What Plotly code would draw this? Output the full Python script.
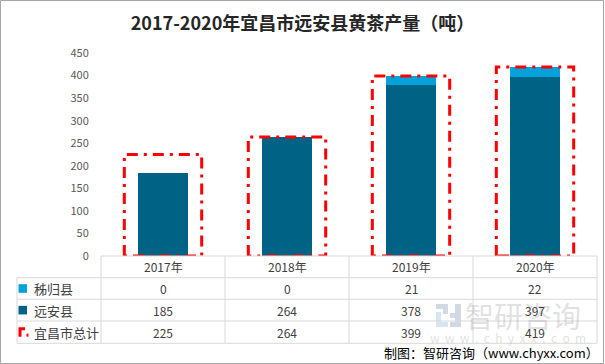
import plotly.graph_objects as go

years = ["2017年", "2018年", "2019年", "2020年"]
zigui = [0, 0, 21, 22]
yuanan = [185, 264, 378, 397]
total = [225, 264, 399, 419]
series_names = ["秭归县", "远安县", "宜昌市总计"]
y_ticks = [0, 50, 100, 150, 200, 250, 300, 350, 400, 450]

C_LIGHT = "#00A2DA"
C_DARK = "#006386"
C_RED = "#FF0000"
C_GRID = "#D9D9D9"
FONT = "Noto Sans CJK SC"

W, H = 605, 364
L, R, T, B = 101, 597, 53, 256

def px(x):
    return (x - L) / (R - L)

def py(y):
    return (B - y) / (B - T)

xs = list(range(len(years)))
fig = go.Figure()
fig.add_trace(go.Bar(x=xs, y=yuanan, width=0.403, marker=dict(color=C_DARK, line=dict(width=0)),
                     name=series_names[1], hoverinfo="skip"))
fig.add_trace(go.Bar(x=xs, y=zigui, width=0.403, marker=dict(color=C_LIGHT, line=dict(width=0)),
                     name=series_names[0], hoverinfo="skip"))

hw = 0.312
bx, by = [], []
for i, t in enumerate(total):
    bx += [i - hw, i - hw, i + hw, i + hw, i - hw, None]
    by += [0, t, t, 0, 0, None]
fig.add_trace(go.Scatter(x=bx, y=by, mode="lines", cliponaxis=False,
                         line=dict(color=C_RED, width=3, dash="11px,6px,3px,6px"),
                         name=series_names[2], hoverinfo="skip"))

shapes = []
annotations = []

def text(x, y, s, size, color, xanchor="center", family=FONT):
    annotations.append(dict(x=px(x), y=py(y), xref="paper", yref="paper", text=s,
                            xanchor=xanchor, yanchor="middle", showarrow=False,
                            font=dict(family=family, size=size, color=color)))

def rect(x0, x1, y0, y1, fill):
    shapes.append(dict(type="rect", xref="paper", yref="paper", x0=px(x0), x1=px(x1),
                       y0=py(y1), y1=py(y0), fillcolor=fill, line=dict(width=0)))

# watermark (behind table text)
wm = "rgba(150,150,150,0.30)"
text(523, 315, "智研咨询", 29, wm)
text(508, 337, "w  w  w  .  c  h  y  x  x  .  c  o  m", 12, wm)
logo_dark = "rgba(110,130,165,0.30)"
logo_light = "rgba(120,170,215,0.30)"
rect(436, 448, 304, 309, logo_dark)
rect(443, 448, 309, 314, logo_dark)
rect(436, 441, 312, 327, logo_light)
rect(441, 448, 322, 327, logo_light)
rect(455, 461, 304, 327, logo_dark)
rect(450, 455, 313, 318, logo_dark)
rect(450, 455, 322, 327, logo_dark)

line = dict(color=C_GRID, width=1)
row_y = [256, 277.7, 299.3, 321, 343.3]
shapes.append(dict(type="line", xref="paper", yref="paper", x0=px(101), x1=px(597),
                   y0=py(256), y1=py(256), line=line))
for yy in row_y[1:]:
    shapes.append(dict(type="line", xref="paper", yref="paper", x0=px(17), x1=px(597),
                       y0=py(yy), y1=py(yy), line=line))
col_x = [101, 225, 349, 473, 597]
for xx in col_x:
    shapes.append(dict(type="line", xref="paper", yref="paper", x0=px(xx), x1=px(xx),
                       y0=py(256), y1=py(343.3), line=line))
shapes.append(dict(type="line", xref="paper", yref="paper", x0=px(17), x1=px(17),
                   y0=py(277.7), y1=py(343.3), line=line))

tcol = "#404040"
for i, yr in enumerate(years):
    cx = (col_x[i] + col_x[i + 1]) / 2
    text(cx, (row_y[0] + row_y[1]) / 2, yr, 12, tcol)
rows = [zigui, yuanan, total]
for r, vals in enumerate(rows):
    cy = (row_y[r + 1] + row_y[r + 2]) / 2
    text(32, cy, series_names[r], 13, tcol, xanchor="left")
    for i, v in enumerate(vals):
        cx = (col_x[i] + col_x[i + 1]) / 2
        text(cx, cy, str(v), 12, tcol)
    if r < 2:
        col = C_LIGHT if r == 0 else C_DARK
        rect(18.5, 27, cy - 4.3, cy + 4.3, col)
    else:
        shapes.append(dict(type="path", xref="paper", yref="paper",
                           path=f"M {px(20)},{py(cy+4.5)} L {px(20)},{py(cy-3.5)} L {px(25)},{py(cy-3.5)}",
                           line=dict(color=C_RED, width=3)))
        rect(26.5, 28.5, cy + 1.5, cy + 4.5, C_RED)

text(601, 352, "制图：智研咨询（www.chyxx.com）", 13, "#000000", xanchor="right")
shapes.append(dict(type="rect", xref="paper", yref="paper", x0=px(0.5), x1=px(603.5),
                   y0=py(0.5), y1=py(363.5), line=dict(color="#A6A6A6", width=1),
                   fillcolor="rgba(0,0,0,0)"))

fig.update_layout(
    width=W, height=H,
    margin=dict(l=L, r=W - R, t=T, b=H - B),
    barmode="stack", showlegend=False,
    paper_bgcolor="white", plot_bgcolor="white",
    title=dict(text="<b>2017-2020年宜昌市远安县黄茶产量（吨）</b>", x=0.5, xanchor="center",
               y=1 - 24 / H, yanchor="middle", font=dict(family=FONT, size=18, color="#262626")),
    xaxis=dict(range=[-0.5, 3.5], visible=False, fixedrange=True),
    yaxis=dict(range=[0, 450], tickvals=y_ticks, showgrid=False, zeroline=False, showline=False,
               ticks="outside", ticklen=9, tickcolor="rgba(0,0,0,0)",
               tickfont=dict(family=FONT, size=11, color="#595959"), fixedrange=True),
    shapes=shapes, annotations=annotations,
)
fig.write_html("out.html", post_script="document.body.style.margin='0';",
               config={"displayModeBar": False})
